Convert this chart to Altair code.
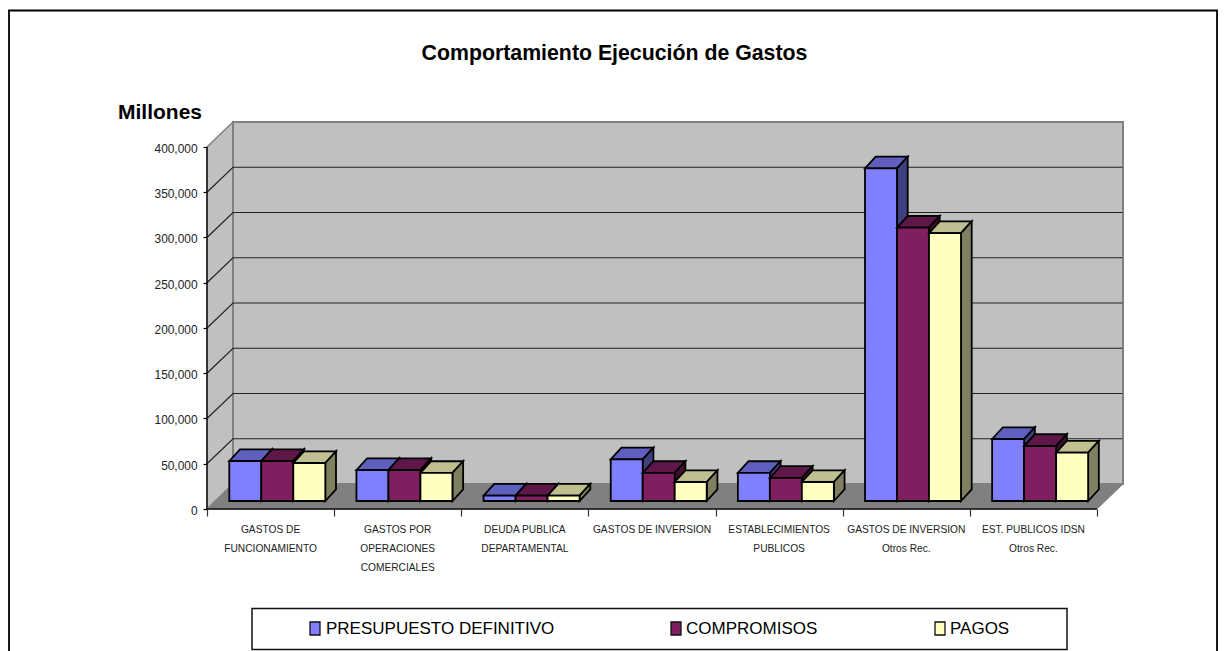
import altair as alt
import pandas as pd

categories = ["GASTOS DE\nFUNCIONAMIENTO", "GASTOS POR\nOPERACIONES\nCOMERCIALES",
              "DEUDA PUBLICA\nDEPARTAMENTAL", "GASTOS DE INVERSION",
              "ESTABLECIMIENTOS\nPUBLICOS", "GASTOS DE INVERSION\nOtros Rec.",
              "EST. PUBLICOS IDSN\nOtros Rec."]
series = ["PRESUPUESTO DEFINITIVO", "COMPROMISOS", "PAGOS"]
presupuesto = [44200, 34250, 6000, 46000, 31000, 367500, 68500]
compromisos = [44200, 34250, 6000, 31000, 25500, 302000, 60800]
pagos = [42000, 31000, 6000, 21000, 21000, 296000, 53400]
values = [presupuesto, compromisos, pagos]
ticks = [0, 50000, 100000, 150000, 200000, 250000, 300000, 350000, 400000]

front = ["#8080FF", "#7F1F5F", "#FFFFC0"]
top = ["#5F5FBF", "#5F174A", "#BFBF90"]
side = ["#404080", "#400F30", "#808060"]
FONT = "Liberation Sans"

# scale geometry (data units)
X_MAX = 916 / 127.14
Y_MAX = 427624
WALL_DX = 26 / 127.14
WALL_DY = 27624
BAR_START = 22.3 / 127.14
BAR_W = 32 / 127.14
BAR_DX = 10.7 / 127.14
BAR_DY = 12930
BASE = 8840

x_s = alt.Scale(domain=[0, X_MAX], nice=False, zero=False)
y_s = alt.Scale(domain=[0, Y_MAX], nice=False, zero=False)
x_axis = alt.Axis(values=list(range(8)), labels=False, title=None, domain=False, grid=False,
                  tickSize=7, tickColor="#333333", tickWidth=1.2, zindex=1)
y_axis = alt.Axis(values=ticks, labelExpr="format(datum.value, ',')", title=None, domain=False,
                  grid=False, tickSize=4, tickColor="#000000", tickWidth=1.2, labelFont=FONT,
                  labelFontSize=11.9, labelColor="#222222", labelPadding=6, labelOffset=1.5,
                  zindex=1)
X = lambda f="x": alt.X(f"{f}:Q", scale=x_s, axis=x_axis)
Y = lambda f="y": alt.Y(f"{f}:Q", scale=y_s, axis=y_axis, stack=False)
Y2 = lambda f="y2": alt.Y2(f"{f}:Q")


def poly(points, **style):
    df = pd.DataFrame(points, columns=["x", "y", "y2"])
    return alt.Chart(df).mark_area(orient="vertical", **style).encode(x=X(), y=Y(), y2=Y2())


def label(text, x, y, size, bold=False, align="center", baseline="middle", color="#000000", **kw):
    return alt.Chart(alt.Data(values=[{}])).mark_text(
        text=text, font=FONT, fontSize=size, fontWeight="bold" if bold else "normal",
        align=align, baseline=baseline, color=color, **kw
    ).encode(x=alt.value(x - 207), y=alt.value(y - 122))


layers = []

# walls and floor
layers.append(poly([(0, 400000, 0), (WALL_DX, 400000 + WALL_DY, WALL_DY)],
                   fill="#C0C0C0", stroke="#808080", strokeWidth=1.5))
layers.append(poly([(WALL_DX, Y_MAX, WALL_DY), (X_MAX, Y_MAX, WALL_DY)],
                   fill="#C0C0C0", stroke="#808080", strokeWidth=2))
layers.append(poly([(0, 0, 0), (WALL_DX, WALL_DY, 0), (7, WALL_DY, 0), (X_MAX, WALL_DY, WALL_DY)],
                   fill="#808080", stroke="#808080", strokeWidth=1))

# frame
layers.append(alt.Chart(alt.Data(values=[{}])).mark_rect(
    filled=False, stroke="#000000", strokeWidth=1.8
).encode(x=alt.value(9 - 207), x2=alt.value(1217 - 207), y=alt.value(10.5 - 122), y2=alt.value(680 - 122)))

# gridlines
grid_rows = []
for v in ticks[1:-1]:
    grid_rows += [{"t": v, "x": 0, "y": v}, {"t": v, "x": WALL_DX, "y": v + WALL_DY},
                  {"t": v, "x": X_MAX - 0.004, "y": v + WALL_DY}]
layers.append(alt.Chart(pd.DataFrame(grid_rows)).mark_line(color="#222222", strokeWidth=1.2).encode(
    x=X(), y=Y(), detail="t:N"))

# bars: top, side, then front, one series after another
for s, name in enumerate(series):
    top_rows, side_rows, front_rows = [], [], []
    for c, cat in enumerate(categories):
        x0 = c + BAR_START + s * BAR_W
        x1 = x0 + BAR_W
        v = values[s][c] + BASE
        k = f"{c}"
        top_rows += [{"k": k, "x": x0, "y": v, "y2": v},
                     {"k": k, "x": x0 + BAR_DX, "y": v + BAR_DY, "y2": v},
                     {"k": k, "x": x1, "y": v + BAR_DY, "y2": v},
                     {"k": k, "x": x1 + BAR_DX, "y": v + BAR_DY, "y2": v + BAR_DY}]
        side_rows += [{"k": k, "x": x1, "y": v, "y2": BASE},
                      {"k": k, "x": x1 + BAR_DX, "y": v + BAR_DY, "y2": BASE + BAR_DY}]
        front_rows.append({"x": x0, "x2": x1, "y": v, "y2": BASE})
    for rows, col in ((top_rows, top[s]), (side_rows, side[s])):
        layers.append(alt.Chart(pd.DataFrame(rows)).mark_area(
            orient="vertical", fill=col, stroke="#000000", strokeWidth=1.8, strokeJoin="miter"
        ).encode(x=X(), y=Y(), y2=Y2(), detail="k:N"))
    layers.append(alt.Chart(pd.DataFrame(front_rows)).mark_rect(
        fill=front[s], stroke="#000000", strokeWidth=1.8
    ).encode(x=X(), x2=alt.X2("x2:Q"), y=Y(), y2=Y2()))

# axis lines
layers.append(alt.Chart(pd.DataFrame({"x": [0], "y": [0], "y2": [400000]})).mark_rule(
    color="#000000", strokeWidth=1.3).encode(x=X(), y=Y(), y2=Y2()))
layers.append(alt.Chart(pd.DataFrame({"x": [0], "x2": [7], "y": [0]})).mark_rule(
    color="#111111", strokeWidth=1.6).encode(x=X(), x2=alt.X2("x2:Q"), y=Y()))

# category labels
cat_df = pd.DataFrame({"x": [i + 0.5 for i in range(7)], "t": categories})
layers.append(alt.Chart(cat_df).mark_text(
    font=FONT, fontSize=10.2, color="#222222", baseline="top", align="center",
    lineBreak="\n", lineHeight=19
).encode(x=X(), y=alt.value(525 - 122), text="t:N"))

# titles
layers.append(label("Comportamiento Ejecución de Gastos", 614.5, 54, 21.3, bold=True))
layers.append(label("Millones", 118, 113, 21, bold=True, align="left"))

# legend
layers.append(alt.Chart(alt.Data(values=[{}])).mark_rect(
    fill="#FFFFFF", stroke="#111111", strokeWidth=1.5
).encode(x=alt.value(252 - 207), x2=alt.value(1067 - 207), y=alt.value(608.5 - 122), y2=alt.value(649.5 - 122)))
legend_box_x = [310, 671, 935]
legend_text_x = [326, 686, 950]
for s, name in enumerate(series):
    layers.append(alt.Chart(alt.Data(values=[{}])).mark_rect(
        fill=front[s], stroke="#111111", strokeWidth=1.3
    ).encode(x=alt.value(legend_box_x[s] - 207), x2=alt.value(legend_box_x[s] + 10 - 207),
             y=alt.value(622 - 122), y2=alt.value(635 - 122)))
    layers.append(label(name, legend_text_x[s], 629, 17, align="left"))

chart = alt.layer(*layers).properties(
    width=916, height=387,
    padding={"left": 199, "top": 114, "right": 95, "bottom": 142},
    autosize=alt.AutoSizeParams(type="none"),
    background="#FFFFFF",
).configure_view(stroke=None)

chart.save("out.html", embed_options={"renderer": "svg", "actions": False})
